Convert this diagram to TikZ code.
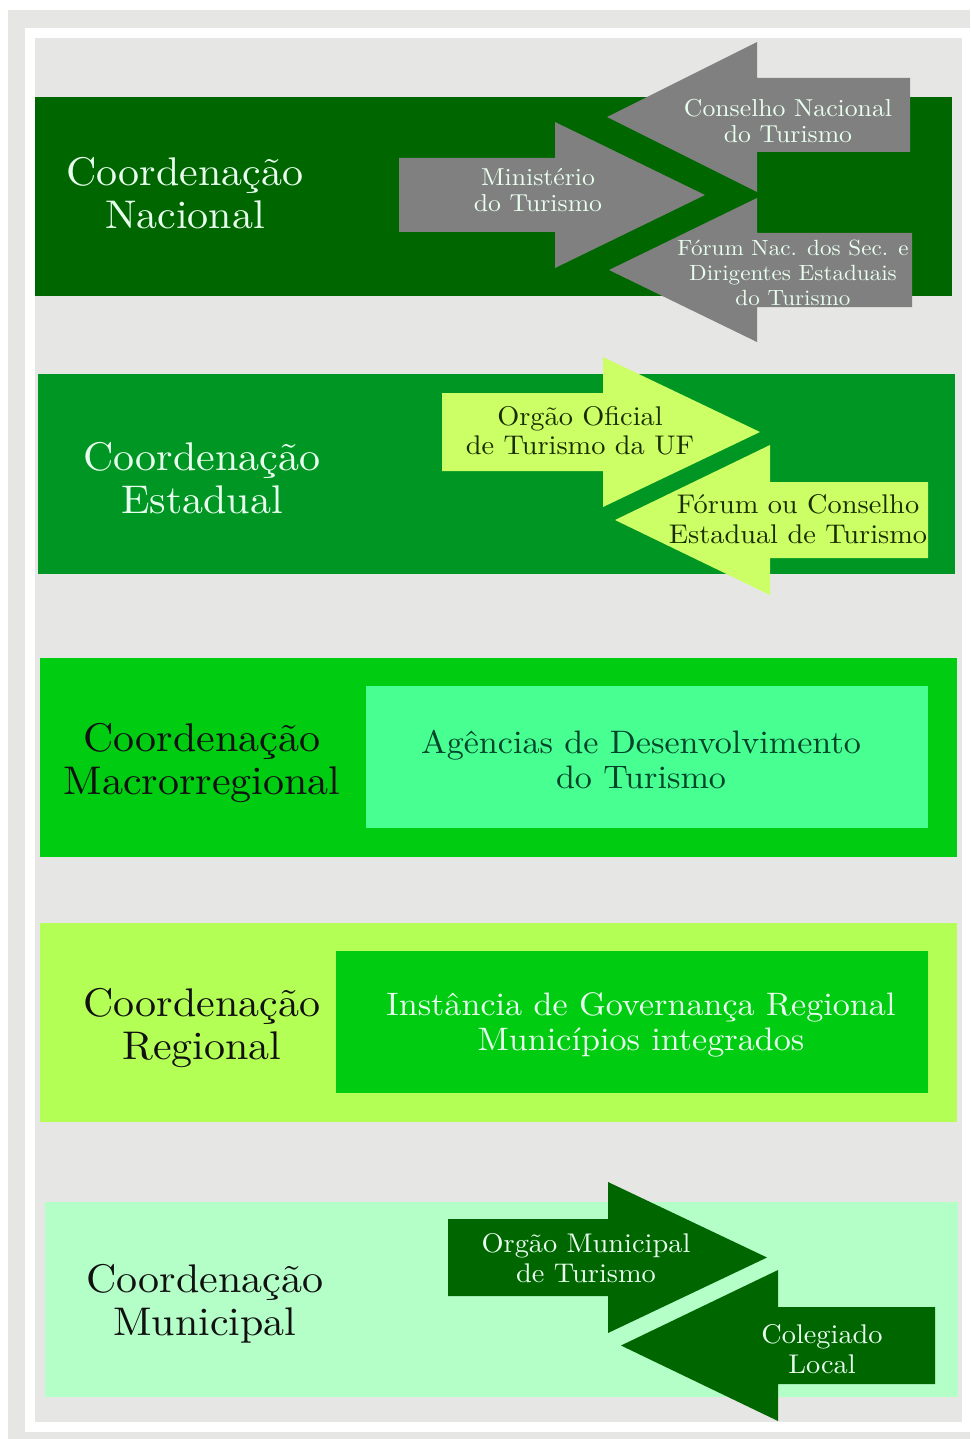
\documentclass[tikz,border=0pt]{standalone}
\usepackage{fontspec}
\setmainfont{lmroman10-regular.otf}[FakeStretch=1.05]
\definecolor{bggray}{RGB}{230,230,228}
\definecolor{bandA}{RGB}{0,102,0}
\definecolor{bandB}{RGB}{0,150,35}
\definecolor{bandC}{RGB}{0,204,17}
\definecolor{bandD}{RGB}{180,255,85}
\definecolor{bandE}{RGB}{180,255,200}
\definecolor{innerC}{RGB}{72,255,145}
\definecolor{arrgray}{RGB}{128,128,128}
\definecolor{arrlime}{RGB}{204,255,102}
\definecolor{txtlight}{RGB}{232,255,238}
\definecolor{txtolive}{RGB}{26,45,0}
\definecolor{txtdkgreen}{RGB}{0,68,42}
\definecolor{txtdark}{RGB}{17,17,17}
\tikzset{
  title/.style={align=center,font=\fontsize{40}{43}\selectfont},
  arrtext/.style={align=center,font=\fontsize{24.5}{26.5}\selectfont},
  arrtextb/.style={align=center,font=\fontsize{27}{29.5}\selectfont},
  innertext/.style={align=center,font=\fontsize{32.5}{35}\selectfont},
}
\begin{document}
\begin{tikzpicture}[x=1pt,y=-1pt]
\useasboundingbox (0,0) rectangle (970,1439);
\fill[white] (0,0) rectangle (970,1439);
\fill[bggray] (8,10) rectangle (970,1439);
\fill[white] (25,28) rectangle (970,1432);
\fill[bggray] (35,38) rectangle (962,1422);
% bands
\fill[bandA] (35,97) rectangle (952,296);
\fill[bandB] (38,374) rectangle (955,574);
\fill[bandC] (40,658) rectangle (957,857);
\fill[bandD] (40,923) rectangle (957,1122);
\fill[bandE] (45,1202) rectangle (958,1397);
% inner boxes
\fill[innerC] (366,686) rectangle (928,828);
\fill[bandC] (336,951) rectangle (928,1093);
% band 1 arrows
\fill[arrgray] (399,158) -- (555,158) -- (555,122) -- (705,195) -- (555,268) -- (555,232) -- (399,232) -- cycle;
\fill[arrgray] (910,78) -- (757,78) -- (757,42) -- (607,117) -- (757,192) -- (757,152) -- (910,152) -- cycle;
\fill[arrgray] (912,233) -- (757,233) -- (757,198) -- (609,270) -- (757,342) -- (757,307) -- (912,307) -- cycle;
% band 2 arrows
\fill[arrlime] (442,393) -- (603,393) -- (603,357) -- (760,432) -- (603,507) -- (603,471) -- (442,471) -- cycle;
\fill[arrlime] (928,482) -- (770,482) -- (770,445) -- (615,520) -- (770,595) -- (770,558) -- (928,558) -- cycle;
% band 5 arrows
\fill[bandA] (448,1219) -- (608,1219) -- (608,1182) -- (767,1257.5) -- (608,1333) -- (608,1296) -- (448,1296) -- cycle;
\fill[bandA] (935,1307) -- (778,1307) -- (778,1270) -- (621,1345.5) -- (778,1421) -- (778,1384) -- (935,1384) -- cycle;
% titles
\node[title,text=txtlight] (t1) at (185,193) {Coordenação\\Nacional};
\node[title,text=txtlight] (t2) at (202,478) {Coordenação\\Estadual};
\node[title,text=txtdark] (t3) at (202,763) {Coordenação\\Macrorregional};
\node[title,text=txtdark] (t4) at (202,1028) {Coordenação\\Regional};
\node[title,text=txtdark] (t5) at (205,1304) {Coordenação\\Municipal};
% arrow texts
\node[arrtext,text=txtlight] (mt) at (538,190) {Ministério\\do Turismo};
\node[arrtext,text=txtlight] (cn) at (788,121) {Conselho Nacional\\do Turismo};
\node[arrtext,text=txtlight,font=\fontsize{22}{25}\selectfont] (fn) at (793,273) {Fórum Nac. dos Sec. e\\Dirigentes Estaduais\\do Turismo};
\node[arrtextb,text=txtolive] (oo) at (580,431) {Orgão Oficial\\de Turismo da UF};
\node[arrtextb,text=txtolive] (fc) at (798,519) {Fórum ou Conselho\\Estadual de Turismo};
\node[arrtextb,text=txtlight] (om) at (586,1258) {Orgão Municipal\\de Turismo};
\node[arrtextb,text=txtlight] (cl) at (822,1349) {Colegiado\\Local};
% inner texts
\node[innertext,text=txtdkgreen] (ag) at (641,760) {Agências de Desenvolvimento\\do Turismo};
\node[innertext,text=txtlight] (ig) at (641,1025) {Instância de Governança Regional\\Municípios integrados};
\end{tikzpicture}
\end{document}
